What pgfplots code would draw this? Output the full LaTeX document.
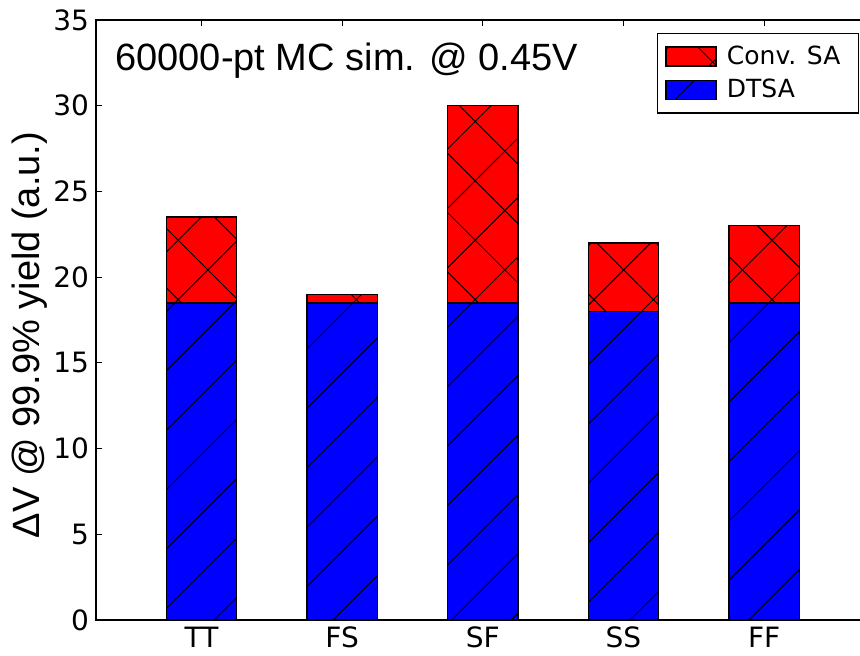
\documentclass[border=0pt]{standalone}
\usepackage{fontspec}
\usepackage{pgfplots}
\pgfplotsset{compat=1.18}
\usetikzlibrary{patterns.meta}
\setmainfont{Liberation Sans}
\newfontfamily\dejavu{DejaVu Sans}
\begin{document}
\begin{tikzpicture}
\begin{axis}[
  at={(0,0)}, anchor=south west,
  scale only axis,
  width=386.8pt, height=300pt,
  xmin=-0.75, xmax=4.75,
  ymin=0, ymax=35,
  ybar stacked,
  bar width=0.5,
  xtick={0,1,2,3,4},
  xticklabels={TT,FS,SF,SS,FF},
  ytick={0,5,10,15,20,25,30,35},
  tick align=inside,
  major tick length=3pt,
  xtick pos=both, ytick pos=both,
  /pgf/number format/assume math mode=true,
  tick label style={font=\dejavu\fontsize{14}{16}\selectfont},
  axis line style={line width=0.6pt},
  tick style={line width=0.5pt, black},
  ylabel={ΔV @ 99.9\% yield (a.u.)},
  ylabel style={at={(axis description cs:-0.0724,0.475)}, anchor=base, rotate=0, font=\fontsize{19}{22}\selectfont},
  legend cell align=left,
  reverse legend,
  legend image code/.code={\draw[#1] (0pt,-4.75pt) rectangle (25pt,4.75pt);},
  legend style={at={(rel axis cs:0.725,0.978)}, anchor=north west,
    font=\dejavu\fontsize{12.5}{15}\selectfont,
    draw=black, line width=0.6pt,
    row sep=2pt, inner xsep=4pt, inner ysep=4pt,
    nodes={inner xsep=5pt}},
]
\addplot[fill={rgb,255:red,0;green,0;blue,255}, draw=black, line width=0.75pt,
  postaction={pattern={Lines[angle=45,distance=21pt,line width=0.5pt]}}]
  coordinates {(0,18.5) (1,18.5) (2,18.5) (3,18) (4,18.5)};
\addlegendentry{DTSA}
\addplot[fill={rgb,255:red,255;green,0;blue,0}, draw=black, line width=0.75pt,
  postaction={pattern={Hatch[angle=45,distance=21pt,line width=0.5pt]}}]
  coordinates {(0,5) (1,0.5) (2,11.5) (3,4) (4,4.5)};
\addlegendentry{Conv. SA}
\node[anchor=base west, font=\fontsize{19}{22}\selectfont, inner sep=0pt]
  at (rel axis cs:0.0246,0.915) {60000-pt MC sim. @ 0.45V};
\end{axis}
\pgfresetboundingbox
\useasboundingbox (-48pt,-18pt) rectangle (382pt,310pt);
\end{tikzpicture}
\end{document}
